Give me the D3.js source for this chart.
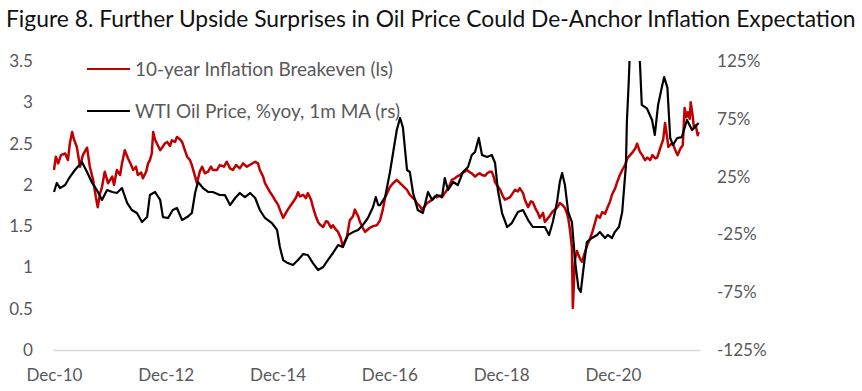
<!DOCTYPE html>
<html><head><meta charset="utf-8">
<script src="https://cdn.jsdelivr.net/npm/d3@7"></script>
<style>body{margin:0;background:#fff;} svg{display:block;font-family:Lato,"Open Sans",sans-serif;}</style>
</head><body><svg id="c" width="862" height="391"></svg>
<script>
const titleText = "Figure 8. Further Upside Surprises in Oil Price Could De-Anchor Inflation Expectation";
const seriesNames = ["10-year Inflation Breakeven (ls)", "WTI Oil Price, %yoy, 1m MA (rs)"];
const seriesColors = ["#C00000", "#000000"];
// x = months since Dec-2010
const xTickMonths = [0, 24, 48, 72, 96, 120];
const xTickLabels = ["Dec-10", "Dec-12", "Dec-14", "Dec-16", "Dec-18", "Dec-20"];
const leftTicks = [0, 0.5, 1, 1.5, 2, 2.5, 3, 3.5];
const rightTicks = [-125, -75, -25, 25, 75, 125];

// [month, value]
const breakeven = [
[0.0,2.18],[0.4,2.34],[0.9,2.26],[1.5,2.36],[2.4,2.38],[3.0,2.30],[3.4,2.50],[3.9,2.64],[4.3,2.55],[4.9,2.46],
[5.6,2.22],[6.2,2.36],[7.1,2.45],[7.7,2.22],[8.4,2.06],[9.0,1.85],[9.4,1.73],[9.9,1.90],[10.3,1.97],[10.9,2.16],
[11.6,2.02],[12.5,2.10],[12.9,2.00],[13.5,2.18],[14.2,2.12],[14.6,2.26],[15.2,2.42],[15.9,2.32],[16.5,2.25],[17.0,2.18],
[17.6,2.22],[18.0,2.12],[18.7,2.15],[19.1,2.08],[19.8,2.16],[20.2,2.26],[20.6,2.30],[21.0,2.38],[21.3,2.64],[21.7,2.55],
[22.1,2.50],[22.8,2.42],[23.2,2.45],[23.8,2.50],[24.3,2.52],[24.9,2.47],[25.3,2.54],[26.0,2.52],[26.4,2.58],[27.1,2.55],
[27.5,2.52],[28.1,2.42],[28.6,2.34],[29.2,2.30],[29.6,2.24],[30.3,2.10],[30.7,2.02],[31.3,2.16],[31.8,2.22],[32.4,2.14],
[33.1,2.16],[33.7,2.22],[34.1,2.18],[35.0,2.18],[35.6,2.24],[36.5,2.22],[37.1,2.28],[37.8,2.20],[38.4,2.18],[39.1,2.24],
[39.9,2.20],[40.6,2.26],[41.4,2.22],[42.3,2.25],[43.2,2.28],[43.8,2.26],[44.2,2.18],[44.9,2.10],[45.3,2.02],[45.9,1.96],
[46.4,1.91],[47.0,1.86],[47.4,1.82],[48.1,1.76],[48.5,1.70],[49.2,1.60],[49.8,1.66],[50.2,1.70],[50.7,1.74],[51.3,1.79],
[52.0,1.85],[52.4,1.91],[52.8,1.86],[53.5,1.88],[54.1,1.84],[54.5,1.90],[55.2,1.82],[55.6,1.73],[56.2,1.62],[56.7,1.55],
[57.1,1.52],[57.8,1.49],[58.4,1.56],[58.8,1.55],[59.5,1.48],[59.9,1.51],[60.5,1.46],[61.0,1.43],[61.6,1.35],[62.0,1.25],
[62.5,1.32],[62.9,1.37],[63.5,1.57],[64.2,1.62],[64.6,1.70],[65.3,1.62],[65.7,1.55],[66.3,1.48],[66.8,1.43],[67.4,1.46],
[67.8,1.48],[68.5,1.50],[69.3,1.51],[70.0,1.57],[70.6,1.70],[71.1,1.85],[71.7,1.92],[72.1,1.97],[72.8,2.02],[73.6,2.06],
[74.3,2.02],[74.7,2.00],[75.4,1.96],[75.8,1.94],[76.4,1.88],[76.9,1.85],[77.5,1.82],[77.9,1.78],[78.6,1.74],[79.0,1.70],
[79.6,1.74],[80.1,1.78],[80.7,1.80],[81.2,1.82],[81.8,1.86],[82.2,1.85],[82.9,1.87],[83.3,1.85],[83.9,1.90],[84.4,1.94],
[85.0,2.00],[85.4,2.06],[86.1,2.08],[86.5,2.10],[87.2,2.12],[87.6,2.14],[88.2,2.16],[88.7,2.18],[89.3,2.15],[89.7,2.14],
[90.4,2.10],[90.8,2.12],[91.4,2.14],[91.9,2.12],[92.5,2.11],[93.0,2.14],[93.6,2.16],[94.0,2.16],[94.5,2.08],[94.7,2.03],
[95.3,1.98],[95.8,1.94],[96.4,1.86],[96.8,1.82],[97.5,1.84],[97.9,1.85],[98.5,1.90],[99.0,1.94],[99.6,1.92],[100.0,1.96],
[100.7,1.90],[101.1,1.82],[101.8,1.73],[102.4,1.80],[102.8,1.79],[103.5,1.70],[103.9,1.66],[104.3,1.60],[105.0,1.66],[105.4,1.55],
[106.1,1.60],[106.5,1.63],[107.1,1.68],[107.6,1.70],[108.2,1.74],[108.6,1.78],[109.1,1.76],[109.7,1.72],[110.1,1.66],[110.4,1.60],
[110.8,1.45],[111.2,1.24],[111.4,0.51],[111.7,0.90],[111.9,1.11],[112.3,1.20],[112.6,1.15],[113.0,1.10],[113.4,1.07],[113.8,1.15],
[114.5,1.27],[115.1,1.35],[115.6,1.43],[116.2,1.55],[116.6,1.63],[117.2,1.60],[117.7,1.67],[118.3,1.65],[118.8,1.72],[119.4,1.80],
[119.8,1.88],[120.5,1.96],[120.9,2.03],[121.5,2.12],[122.0,2.18],[122.6,2.24],[123.2,2.33],[123.7,2.36],[124.3,2.40],[124.8,2.44],
[125.2,2.50],[125.8,2.40],[126.3,2.36],[126.9,2.30],[127.4,2.33],[128.0,2.30],[128.5,2.36],[129.1,2.32],[129.5,2.33],[130.2,2.45],
[130.8,2.55],[131.2,2.75],[131.7,2.55],[131.9,2.46],[132.6,2.50],[133.0,2.48],[133.4,2.42],[133.9,2.36],[134.5,2.44],[135.0,2.48],
[135.4,2.93],[135.8,2.82],[136.1,2.88],[136.5,2.80],[136.7,3.00],[137.1,2.85],[137.4,2.69],[137.8,2.72],[138.2,2.60],[138.4,2.64]
];

const wtiYoy = [
[0.0,11.7],[0.6,19.5],[1.3,15.0],[2.4,17.7],[3.4,24.6],[4.5,30.7],[6.0,37.6],[7.1,29.0],[8.2,19.5],[9.2,13.4],
[10.3,4.8],[11.4,13.4],[12.5,11.7],[13.5,10.8],[14.6,15.1],[15.7,2.2],[16.7,-3.9],[17.8,-6.5],[18.9,-14.3],[20.0,-10.0],
[20.6,9.1],[21.7,11.7],[22.8,4.8],[23.4,-10.0],[24.5,-10.8],[25.5,-3.9],[26.4,-2.2],[27.5,-12.6],[28.6,-10.0],[29.6,-6.5],
[30.3,10.8],[30.9,20.3],[32.0,15.1],[33.1,11.7],[34.1,11.7],[35.6,9.1],[36.7,9.0],[37.8,0.4],[38.9,6.5],[39.9,10.8],
[41.0,7.3],[42.1,10.8],[43.2,6.5],[44.2,-3.9],[45.3,-10.8],[46.8,-15.2],[47.9,-21.2],[48.5,-35.9],[49.2,-47.2],[50.2,-49.8],
[51.3,-51.5],[52.4,-47.2],[53.5,-42.0],[54.5,-42.8],[55.6,-49.8],[56.7,-55.8],[57.8,-53.2],[58.8,-47.2],[59.9,-41.1],[61.0,-34.2],
[62.0,-35.9],[63.1,-25.5],[64.2,-23.0],[65.3,-21.2],[66.3,-16.9],[67.4,-10.8],[68.5,-1.3],[69.1,7.3],[69.6,0.4],[70.0,0.4],
[71.1,7.3],[72.1,28.1],[72.8,45.4],[73.6,65.3],[74.3,75.7],[74.9,67.9],[75.8,30.7],[76.4,29.0],[77.1,10.8],[78.1,-3.9],
[79.2,-6.5],[80.3,11.7],[81.2,4.8],[82.2,9.1],[83.3,7.3],[83.9,23.8],[84.6,13.4],[85.7,20.3],[86.7,17.7],[87.8,29.0],
[88.9,33.3],[89.7,43.7],[90.4,46.3],[91.2,58.4],[91.9,43.7],[93.0,42.0],[94.0,43.7],[94.7,36.8],[95.3,13.4],[96.2,-6.5],
[97.3,-18.6],[98.3,-15.2],[99.6,-5.6],[100.7,-3.9],[101.8,-12.6],[102.8,-18.6],[104.3,-18.6],[105.4,-18.6],[106.3,-25.5],[107.1,-14.3],
[108.0,3.0],[108.6,20.3],[109.1,28.1],[109.7,17.7],[110.4,-5.6],[111.2,-14.3],[111.9,-48.9],[112.6,-71.4],[113.1,-74.8],[113.6,-57.5],
[114.4,-31.6],[115.5,-28.1],[116.6,-25.5],[117.2,-23.0],[118.3,-28.1],[118.9,-25.5],[119.8,-28.1],[120.4,-23.0],[121.3,-18.6],[122.0,-5.6],
[122.4,15.1],[122.8,35.0],[123.0,72.2],[123.4,107],[123.9,160],[124.5,220],[125.1,180],[125.6,130],[125.8,124],[126.2,87],
[127.3,84],[128.4,74],[129.0,61],[129.7,87],[130.6,104],[131.0,111],[131.7,102],[132.3,58.4],[132.9,52.3],[133.8,58.4],
[134.8,59.2],[135.9,74],[137.0,65.3],[137.6,67.9],[138.4,71.3]
];

const svg = d3.select("#c");
const plot = {left: 53, right: 700, top: 61, bottom: 350};
const x = d3.scaleLinear().domain([-0.21, 138.7]).range([plot.left, plot.right]);
const yL = d3.scaleLinear().domain([0, 3.5]).range([plot.bottom, plot.top]);
const yR = d3.scaleLinear().domain([-125, 125]).range([plot.bottom, plot.top]);

function fitWidth(sel, target) {
  const w = sel.node().getComputedTextLength();
  const fs = parseFloat(sel.attr("font-size"));
  const nfs = fs * target / w;
  sel.attr("font-size", nfs);
  return nfs;
}

// Title
const t = svg.append("text").attr("x", 6).attr("y", 27).attr("font-size", 22)
  .attr("fill", "#111").text(titleText);
fitWidth(t, 850);

// probe axis font size using a tick label width
const probe = svg.append("text").attr("font-size", 19).text(xTickLabels[0]);
const axisFs = fitWidth(probe, 56);
probe.text(seriesNames[0]).attr("font-size", 19);
const legFs = fitWidth(probe, 258);
probe.remove();

svg.append("defs").append("clipPath").attr("id", "clip").append("rect")
  .attr("x", plot.left).attr("y", plot.top).attr("width", plot.right - plot.left).attr("height", plot.bottom - plot.top);

// x axis
const gx = svg.append("g").attr("transform", `translate(0,${plot.bottom})`)
  .call(d3.axisBottom(x).tickValues(xTickMonths).tickFormat((d, i) => xTickLabels[i]).tickSize(0).tickSizeOuter(0).tickPadding(19));
gx.select(".domain").attr("stroke", "#D9D9D9").attr("stroke-width", 1.5);
gx.attr("font-family", null);
gx.selectAll("text").attr("font-size", axisFs).attr("fill", "#595959");

// left axis
const gl = svg.append("g").attr("transform", "translate(33,0)")
  .call(d3.axisLeft(yL).tickValues(leftTicks).tickFormat(d3.format("~g")).tickSize(0).tickPadding(0));
gl.select(".domain").remove();
gl.attr("font-family", null);
gl.selectAll("text").attr("font-size", axisFs).attr("fill", "#595959");

// right axis
const gr = svg.append("g").attr("transform", "translate(717,0)")
  .call(d3.axisRight(yR).tickValues(rightTicks).tickFormat(d => d + "%").tickSize(0).tickPadding(0));
gr.select(".domain").remove();
gr.attr("font-family", null);
gr.selectAll("text").attr("font-size", axisFs).attr("fill", "#595959");

// lines
const lineL = d3.line().x(d => x(d[0])).y(d => yL(d[1]));
const lineR = d3.line().x(d => x(d[0])).y(d => yR(d[1]));
const gLines = svg.append("g").attr("clip-path", "url(#clip)");
gLines.append("path").datum(breakeven).attr("d", lineL).attr("fill", "none")
  .attr("stroke", seriesColors[0]).attr("stroke-width", 2.5).attr("stroke-linejoin", "round");
gLines.append("path").datum(wtiYoy).attr("d", lineR).attr("fill", "none")
  .attr("stroke", seriesColors[1]).attr("stroke-width", 2.2).attr("stroke-linejoin", "round");

// legend
const legY = [69, 111];
const leg = svg.append("g");
seriesNames.forEach((name, i) => {
  leg.append("line").attr("x1", 87).attr("x2", 130).attr("y1", legY[i]).attr("y2", legY[i])
    .attr("stroke", seriesColors[i]).attr("stroke-width", 2.2);
  leg.append("text").attr("x", 135).attr("y", legY[i]).attr("dy", "0.35em")
    .attr("font-size", legFs).attr("fill", "#595959").text(name);
});
</script></body></html>
